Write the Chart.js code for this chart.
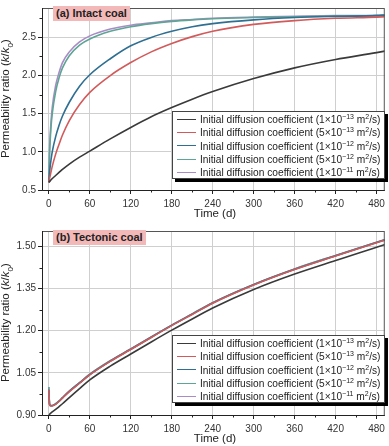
<!DOCTYPE html>
<html lang="en">
<head>
  <meta charset="UTF-8" />
  <title>Permeability ratio vs time</title>
  <script src="https://cdn.jsdelivr.net/npm/chart.js@4.4.0/dist/chart.umd.min.js"></script>
  <style>
    * { margin: 0; padding: 0; box-sizing: border-box; }
    body { width: 389px; height: 446px; background: #fff; position: relative; overflow: hidden;
           font-family: 'Liberation Sans', Arial, sans-serif; color: #222; }
    canvas { position: absolute; left: 0; }
    #topChart { top: 0; }
    #bottomChart { top: 223px; }
    .tag { position: absolute; left: 53px; height: 15px; line-height: 15px; padding: 0 3px;
           background: #f3b9b9; font-weight: bold; font-size: 11px; color: #222; }
    .ytitle { position: absolute; width: 200px; text-align: center; font-size: 11.5px; line-height: 12px;
              transform: rotate(-90deg); transform-origin: center center; white-space: nowrap; }
    .xtitle { position: absolute; left: 165px; width: 100px; text-align: center; font-size: 11.5px; }
    .legend { position: absolute; left: 172px; width: 213px; height: 68px; background: #fff;
              border: 1px solid #444; box-shadow: 3px 3px 0 #000; padding-top: 1px; }
    .legend div { height: 13.3px; line-height: 13.3px; font-size: 10.2px; white-space: nowrap; color: #222; }
    .legend span.ln { display: inline-block; width: 19px; height: 0; border-top: 1.6px solid;
                      vertical-align: middle; margin: 0 4px 0 4px; position: relative; top: -1px; }
    .legend sup { font-size: 7px; line-height: 0; vertical-align: 4px; }
  </style>
</head>
<body>
  <canvas id="topChart" width="389" height="223"></canvas>
  <canvas id="bottomChart" width="389" height="223"></canvas>

  <div class="tag" style="top:6px;">(a) Intact coal</div>
  <div class="tag" style="top:230px;">(b) Tectonic coal</div>

  <div class="ytitle" style="left:-92px; top:90px;">Permeability ratio (<i>k</i>/<i>k</i><sub style="font-size:8px">0</sub>)</div>
  <div class="ytitle" style="left:-92px; top:314px;">Permeability ratio (<i>k</i>/<i>k</i><sub style="font-size:8px">0</sub>)</div>

  <div class="xtitle" style="top:207px;">Time (d)</div>
  <div class="xtitle" style="top:432px;">Time (d)</div>

  <div class="legend" id="legendTop" style="top:111px;"></div>
  <div class="legend" id="legendBottom" style="top:335px;"></div>

  <script>
    // time points (days)
    const days = [0, 1, 2, 3, 5, 10, 15, 20, 30, 45, 60, 90, 120, 150, 180, 210, 240, 300, 360, 420, 480, 492];

    const seriesNames = ["1×10⁻¹³", "5×10⁻¹³", "1×10⁻¹²", "5×10⁻¹²", "1×10⁻¹¹"];
    const seriesExp = [["1", "-13"], ["5", "-13"], ["1", "-12"], ["5", "-12"], ["1", "-11"]];
    const colors = ["#3a3a3a", "#d25a5a", "#2e6f92", "#5fa595", "#a98cc6"];

    // (a) intact coal
    const intactD13a = [0.60, 0.61, 0.62, 0.63, 0.65, 0.69, 0.73, 0.77, 0.84, 0.93, 1.01, 1.17, 1.32, 1.46, 1.58, 1.69, 1.79, 1.96, 2.10, 2.21, 2.30, 2.32];
    const intactD13b = [0.60, 0.65, 0.69, 0.73, 0.81, 0.97, 1.10, 1.22, 1.41, 1.62, 1.78, 2.00, 2.17, 2.31, 2.42, 2.51, 2.58, 2.67, 2.72, 2.75, 2.765, 2.77];
    const intactD12a = [0.60, 0.72, 0.81, 0.88, 1.00, 1.20, 1.35, 1.47, 1.65, 1.86, 2.01, 2.22, 2.39, 2.50, 2.58, 2.64, 2.68, 2.73, 2.76, 2.775, 2.785, 2.79];
    const intactD12b = [0.60, 0.95, 1.15, 1.30, 1.50, 1.79, 1.97, 2.10, 2.26, 2.40, 2.48, 2.58, 2.64, 2.68, 2.71, 2.73, 2.745, 2.76, 2.77, 2.78, 2.785, 2.79];
    const intactD11 = [0.62, 1.02, 1.22, 1.37, 1.58, 1.87, 2.04, 2.17, 2.31, 2.44, 2.52, 2.61, 2.66, 2.69, 2.72, 2.735, 2.75, 2.765, 2.775, 2.785, 2.79, 2.795];

    // (b) tectonic coal
    const tectD13a = [0.90, 0.902, 0.905, 0.907, 0.911, 0.920, 0.930, 0.940, 0.962, 0.994, 1.025, 1.074, 1.117, 1.160, 1.202, 1.242, 1.281, 1.347, 1.402, 1.450, 1.497, 1.507];
    const tectD13b = [0.99, 0.938, 0.933, 0.932, 0.932, 0.938, 0.948, 0.960, 0.983, 1.013, 1.043, 1.091, 1.133, 1.176, 1.218, 1.258, 1.298, 1.363, 1.418, 1.466, 1.513, 1.522];
    const tectD12a = [0.99, 0.939, 0.934, 0.933, 0.933, 0.939, 0.949, 0.961, 0.984, 1.014, 1.044, 1.092, 1.134, 1.177, 1.219, 1.259, 1.299, 1.364, 1.419, 1.467, 1.514, 1.523];
    const tectD12b = [1.00, 0.940, 0.935, 0.934, 0.934, 0.940, 0.950, 0.962, 0.985, 1.015, 1.045, 1.093, 1.135, 1.178, 1.220, 1.260, 1.300, 1.365, 1.420, 1.468, 1.515, 1.524];
    const tectD11 = [1.00, 0.940, 0.935, 0.934, 0.934, 0.940, 0.950, 0.962, 0.985, 1.015, 1.045, 1.093, 1.135, 1.178, 1.220, 1.260, 1.300, 1.365, 1.420, 1.468, 1.515, 1.524];

    const xTicks = [0, 60, 120, 180, 240, 300, 360, 420, 480];
    const xMinor = [30, 90, 150, 210, 270, 330, 390, 450];
    const yTicksTop = [0.5, 1.0, 1.5, 2.0, 2.5];
    const yMinorTop = [0.75, 1.25, 1.75, 2.25, 2.75];
    const yTicksBottom = [0.90, 1.05, 1.20, 1.35, 1.50];
    const yMinorBottom = [0.975, 1.125, 1.275, 1.425];

    function buildLegend(id) {
      const el = document.getElementById(id);
      el.innerHTML = seriesExp.map((e, i) =>
        `<div><span class="ln" style="border-color:${colors[i]}"></span>Initial diffusion coefficient (${e[0]}×10<sup>${e[1].replace("-", "−")}</sup> m<sup>2</sup>/s)</div>`
      ).join("");
    }
    buildLegend("legendTop");
    buildLegend("legendBottom");

    const framePlugin = {
      id: "frame",
      afterDraw(chart, args, opts) {
        const { ctx, chartArea: a, scales } = chart;
        ctx.save();
        ctx.strokeStyle = "#555";
        ctx.lineWidth = 1;
        ctx.strokeRect(a.left + 0.5, a.top + 0.5, a.right - a.left - 1, a.bottom - a.top);
        ctx.strokeStyle = "#222";
        ctx.beginPath();
        ctx.moveTo(a.left + 0.5, a.top);
        ctx.lineTo(a.left + 0.5, a.bottom + 0.5);
        ctx.lineTo(a.right, a.bottom + 0.5);
        // minor ticks
        opts.xMinor.forEach(v => {
          const px = Math.round(scales.x.getPixelForValue(v)) + 0.5;
          ctx.moveTo(px, a.bottom);
          ctx.lineTo(px, a.bottom + 2.5);
        });
        opts.yMinor.forEach(v => {
          const py = Math.round(scales.y.getPixelForValue(v)) + 0.5;
          ctx.moveTo(a.left, py);
          ctx.lineTo(a.left - 2.5, py);
        });
        ctx.stroke();
        ctx.restore();
      }
    };

    function makeChart(canvasId, seriesList, yMin, yMax, yTicks, yMinor, decimals, pad, xHeight) {
      return new Chart(document.getElementById(canvasId), {
        type: "line",
        data: {
          datasets: seriesList.map((vals, i) => ({
            label: "Initial diffusion coefficient (" + seriesNames[i] + " m²/s)",
            data: days.map((d, k) => ({ x: d, y: vals[k] })),
            borderColor: colors[i],
            borderWidth: 1.6,
            pointRadius: 0,
            fill: false,
            cubicInterpolationMode: "monotone"
          }))
        },
        options: {
          responsive: false,
          animation: false,
          devicePixelRatio: 1,
          layout: { padding: pad },
          plugins: {
            legend: { display: false },
            tooltip: { enabled: false },
            frame: { xMinor: xMinor, yMinor: yMinor }
          },
          scales: {
            x: {
              type: "linear",
              min: -10,
              max: 492,
              afterBuildTicks: s => { s.ticks = xTicks.map(v => ({ value: v })); },
              afterFit: s => { s.height = xHeight; },
              grid: { color: "#cfcfcf", borderDash: [1, 2], tickColor: "#222", tickLength: 4, tickBorderDash: [] },
              border: { display: false },
              ticks: { color: "#333", font: { size: 10, family: "'Liberation Sans', Arial" }, padding: 4, maxRotation: 0 }
            },
            y: {
              min: yMin,
              max: yMax,
              afterBuildTicks: s => { s.ticks = yTicks.map(v => ({ value: v })); },
              afterFit: s => { s.width = 42; },
              grid: { color: "#cfcfcf", borderDash: [1, 2], tickColor: "#222", tickLength: 4, tickBorderDash: [] },
              border: { display: false },
              ticks: {
                color: "#333", font: { size: 10, family: "'Liberation Sans', Arial" }, padding: 2,
                callback: v => v.toFixed(decimals)
              }
            }
          }
        },
        plugins: [framePlugin]
      });
    }

    makeChart("topChart", [intactD13a, intactD13b, intactD12a, intactD12b, intactD11],
      0.5, 2.885, yTicksTop, yMinorTop, 1, { top: 3, right: 3, left: 0, bottom: 0 }, 33);
    makeChart("bottomChart", [tectD13a, tectD13b, tectD12a, tectD12b, tectD11],
      0.9, 1.555, yTicksBottom, yMinorBottom, 2, { top: 2, right: 3, left: 0, bottom: 0 }, 31);
  </script>
</body>
</html>
